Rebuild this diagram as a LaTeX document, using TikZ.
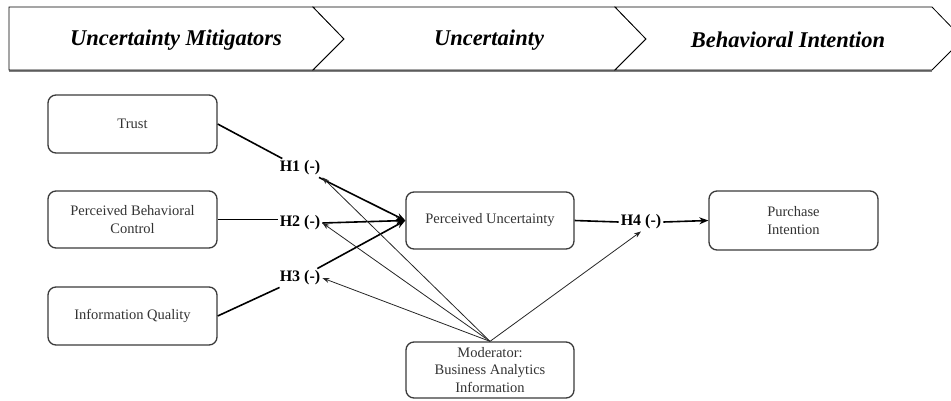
\documentclass[tikz,border=0pt]{standalone}
\usepackage{fontspec}
\setmainfont{Liberation Serif}
\usetikzlibrary{arrows.meta}
\definecolor{bordercol}{HTML}{3A3A3A}
\definecolor{txtcol}{HTML}{333333}
\tikzset{
  box/.style={draw=bordercol, line width=1.3pt, rounded corners=8pt, minimum width=169pt, minimum height=58pt, inner sep=0pt, align=center, text=txtcol, font=\fontsize{14.5}{17.5}\selectfont},
  hlabel/.style={fill=white, inner sep=2pt, font=\bfseries\fontsize{16}{18}\selectfont, text=black},
  banner/.style={draw=black, line width=0.8pt, fill=white},
  head/.style={font=\bfseries\itshape\fontsize{22.5}{26}\selectfont},
  thickline/.style={line width=1.6pt, black},
  thickarrow/.style={line width=1.6pt, black, -{Stealth[length=9pt,width=7pt]}},
  thinarrow/.style={line width=0.8pt, black!85, -{Stealth[length=7pt,width=5pt]}}
}
\begin{document}
\begin{tikzpicture}[x=1pt,y=-1pt]
\useasboundingbox (0,0) rectangle (951,400);
\clip (0,0) rectangle (951,400);
% banner
\draw[gray, line width=1.6pt] (9,71) -- (932,71);
\draw[banner] (9,7) -- (313,7) -- (344,39) -- (313,70) -- (9,70) -- cycle;
\draw[banner] (313,7) -- (615,7) -- (646,39) -- (615,70) -- (313,70) -- (344,39) -- cycle;
\draw[banner] (615,7) -- (932,7) -- (963,39) -- (932,70) -- (615,70) -- (646,39) -- cycle;
\node[head] (b1) at (176,40) {Uncertainty Mitigators};
\node[head] (b2) at (489,40) {Uncertainty};
\node[head] (b3) at (788,40) {Behavioral Intention};
% boxes
\node[box] (trust) at (132.5,124) {Trust};
\node[box, minimum height=57pt] (pbc) at (132.5,219.5) {Perceived Behavioral\\Control};
\node[box] (iq) at (132.5,316) {Information Quality};
\node[box, minimum width=168pt, minimum height=57pt] (pu) at (490,220.5) {Perceived Uncertainty};
\node[box, minimum width=168pt, minimum height=56pt] (mod) at (490,370) {Moderator:\\Business Analytics\\Information};
\node[box, minimum height=59pt] (pi) at (793.5,220.5) {Purchase\\Intention};
% hypothesis labels
\node[hlabel] (h1) at (300,168) {H1 (-)};
\node[hlabel] (h2) at (300,223) {H2 (-)};
\node[hlabel] (h3) at (300,278) {H3 (-)};
\node[hlabel] (h4) at (641,222) {H4 (-)};
% connectors
\draw[thickline] (trust.east) -- (h1);
\draw[thickarrow] (h1) -- (pu.west);
\draw[thickline] (pbc.east) -- (pbc.east -| h2.west);
\draw[thickarrow] (h2.east) -- (pu.west);
\draw[thickline] (iq.east) -- (h3);
\draw[thickarrow] (h3) -- (pu.west);
\draw[thickline] (pu.east) -- (h4.west);
\draw[thickarrow] (h4.east) -- (pi.west);
\draw[thinarrow] (mod.north) -- (h1.south east);
\draw[thinarrow] (mod.north) -- (h2.east);
\draw[thinarrow] (mod.north) -- (h3.east);
\draw[thinarrow] (mod.north) -- (h4.south);
\end{tikzpicture}
\end{document}
